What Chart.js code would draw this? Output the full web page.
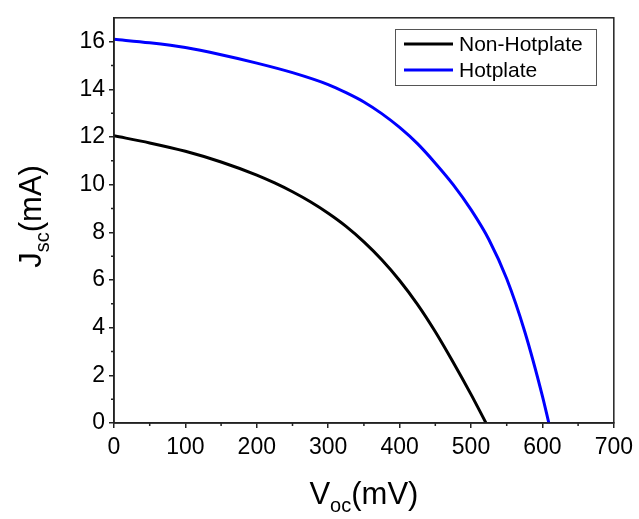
<!DOCTYPE html>
<html>
<head>
<meta charset="utf-8">
<script src="https://cdn.jsdelivr.net/npm/chart.js@4"></script>
<style>
  html, body { margin: 0; padding: 0; background: #fff; }
  #wrap { width: 639px; height: 519px; }
</style>
</head>
<body>
<div id="wrap"><canvas id="jvChart" width="639" height="519"></canvas></div>
<script>
// Values
const nonHotV = [0, 50, 100, 150, 200, 225, 250, 275, 300, 325, 350, 375, 400, 425, 450, 475, 500, 521];
const nonHotJ = [12.05, 11.75, 11.4, 10.95, 10.4, 10.07, 9.7, 9.28, 8.8, 8.25, 7.6, 6.85, 5.98, 4.98, 3.83, 2.55, 1.2, 0];
const hotV = [0, 50, 100, 150, 200, 250, 300, 325, 350, 375, 400, 425, 450, 475, 500, 525, 550, 575, 600, 609];
const hotJ = [16.1, 15.95, 15.75, 15.45, 15.1, 14.7, 14.2, 13.86, 13.47, 12.98, 12.4, 11.72, 10.9, 10.0, 8.95, 7.7, 6.05, 3.86, 1.13, 0];
const xTicks = [0, 100, 200, 300, 400, 500, 600, 700];
const yTicks = [0, 2, 4, 6, 8, 10, 12, 14, 16];
const xMinor = [50, 150, 250, 350, 450, 550, 650];
const yMinor = [1, 3, 5, 7, 9, 11, 13, 15];

const FONT = 'Liberation Sans, Arial, sans-serif';
const AXIS = '#222';

const toPoints = (xs, ys) => xs.map((x, i) => ({ x: x, y: ys[i] }));

// box, minor ticks, axis titles with subscripts, legend
const decorations = {
    id: 'decorations',
    afterDraw(chart) {
        const { ctx, chartArea: a, scales } = chart;
        ctx.save();
        ctx.strokeStyle = AXIS;
        ctx.lineWidth = 1.5;
        ctx.strokeRect(a.left, a.top, a.right - a.left, a.bottom - a.top);

        // minor ticks
        ctx.beginPath();
        xMinor.forEach(v => {
            const px = scales.x.getPixelForValue(v);
            ctx.moveTo(px, a.bottom);
            ctx.lineTo(px, a.bottom + 3);
        });
        yMinor.forEach(v => {
            const py = scales.y.getPixelForValue(v);
            ctx.moveTo(a.left, py);
            ctx.lineTo(a.left - 3, py);
        });
        ctx.stroke();

        // axis titles
        ctx.fillStyle = '#000';
        ctx.textBaseline = 'alphabetic';
        const big = '31px ' + FONT, small = '20px ' + FONT;
        const drawSub = (main, sub, rest, cx, baseY) => {
            ctx.font = big;
            const w1 = ctx.measureText(main).width, w3 = ctx.measureText(rest).width;
            ctx.font = small;
            const w2 = ctx.measureText(sub).width;
            let x = cx - (w1 + w2 + w3) / 2;
            ctx.textAlign = 'left';
            ctx.font = big; ctx.fillText(main, x, baseY); x += w1;
            ctx.font = small; ctx.fillText(sub, x, baseY + 8); x += w2;
            ctx.font = big; ctx.fillText(rest, x, baseY);
        };
        drawSub('V', 'oc', '(mV)', (a.left + a.right) / 2, 504);
        ctx.save();
        ctx.translate(41, (a.top + a.bottom) / 2 - 4);
        ctx.rotate(-Math.PI / 2);
        drawSub('J', 'sc', '(mA)', 0, 0);
        ctx.restore();

        // legend
        const lx = 395, ly = 29, lw = 201, lh = 56;
        ctx.fillStyle = '#fff';
        ctx.fillRect(lx, ly, lw, lh);
        ctx.strokeStyle = '#555';
        ctx.lineWidth = 1;
        ctx.strokeRect(lx + 0.5, ly + 0.5, lw, lh);
        ctx.font = '21px ' + FONT;
        ctx.textBaseline = 'middle';
        chart.data.datasets.forEach((ds, i) => {
            const y = ly + 15 + i * 26;
            ctx.strokeStyle = ds.borderColor;
            ctx.lineWidth = 3;
            ctx.beginPath();
            ctx.moveTo(lx + 9, y);
            ctx.lineTo(lx + 58, y);
            ctx.stroke();
            ctx.fillStyle = '#000';
            ctx.fillText(ds.label, lx + 64, y + 1);
        });
        ctx.restore();
    }
};

new Chart(document.getElementById('jvChart'), {
    type: 'line',
    data: {
        datasets: [
            { label: 'Non-Hotplate', data: toPoints(nonHotV, nonHotJ), borderColor: '#000000', borderWidth: 3, pointRadius: 0, cubicInterpolationMode: 'monotone', fill: false },
            { label: 'Hotplate', data: toPoints(hotV, hotJ), borderColor: '#0000ff', borderWidth: 3, pointRadius: 0, cubicInterpolationMode: 'monotone', fill: false }
        ]
    },
    options: {
        responsive: false,
        animation: false,
        layout: { padding: { top: 11, right: 24, left: 0, bottom: 0 } },
        plugins: { legend: { display: false }, tooltip: { enabled: false } },
        scales: {
            x: {
                type: 'linear', min: 0, max: 700,
                afterBuildTicks: s => { s.ticks = xTicks.map(v => ({ value: v })); },
                afterFit: s => { s.height = 96; },
                border: { color: AXIS, width: 1.5 },
                grid: { drawOnChartArea: false, drawTicks: true, tickLength: 5, color: AXIS, lineWidth: 1.5 },
                ticks: { color: '#000', font: { family: FONT, size: 23 }, padding: 6, maxRotation: 0 }
            },
            y: {
                type: 'linear', min: 0, max: 17,
                afterBuildTicks: s => { s.ticks = yTicks.map(v => ({ value: v })); },
                afterFit: s => { s.width = 114; },
                border: { color: AXIS, width: 1.5 },
                grid: { drawOnChartArea: false, drawTicks: true, tickLength: 5, color: AXIS, lineWidth: 1.5 },
                ticks: { color: '#000', font: { family: FONT, size: 23 }, padding: 4 }
            }
        }
    },
    plugins: [decorations]
});
</script>
</body>
</html>
